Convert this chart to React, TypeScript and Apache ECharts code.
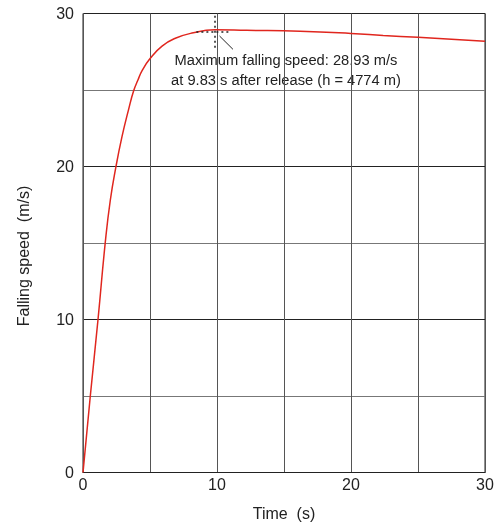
import React, { useEffect, useRef } from "react";
import * as echarts from "echarts";

const timeS = [0, 0.54, 1.12, 1.66, 2.04, 2.46, 2.91, 3.40, 3.78, 4.1, 4.40, 5.02, 5.90, 6.89, 8.13, 9.83, 12.2, 16.2, 20, 22.4, 25, 30];
const speedMs = [0, 4.95, 10, 15.02, 17.81, 19.99, 21.95, 23.72, 24.95, 25.65, 26.25, 27.07, 27.87, 28.38, 28.72, 28.93, 28.9, 28.84, 28.7, 28.57, 28.44, 28.18];
const xTicks = [0, 10, 20, 30];
const yTicks = [0, 10, 20, 30];
const maxT = 9.83;
const maxV = 28.93;
const annotationLines = ["Maximum falling speed: 28.93 m/s", "at 9.83 s after release (h = 4774 m)"];

const FONT = "'Liberation Sans', Arial, sans-serif";

export default function App() {
  const ref = useRef<HTMLDivElement>(null);
  useEffect(() => {
    if (!ref.current) return;
    const chart = echarts.init(ref.current, null, { renderer: "svg" });
    const data = timeS.map((t, i) => [t, speedMs[i]]);
    chart.setOption({
      animation: false,
      textStyle: { fontFamily: FONT },
      grid: { left: 83, right: 14, top: 13.5, bottom: 54.5, show: true, borderColor: "#222", borderWidth: 1 },
      xAxis: {
        type: "value",
        min: xTicks[0],
        max: xTicks[xTicks.length - 1],
        interval: 10,
        name: "Time  (s)",
        nameLocation: "middle",
        nameGap: 33,
        nameTextStyle: { fontSize: 16, color: "#222", fontFamily: FONT },
        axisLine: { show: true, lineStyle: { color: "#222", width: 1 } },
        axisTick: { show: false },
        axisLabel: { fontSize: 16, color: "#222", margin: 4, fontFamily: FONT },
        splitLine: { show: true, lineStyle: { color: "#555", width: 1 } },
        minorTick: { show: false, splitNumber: 2 },
        minorSplitLine: { show: true, lineStyle: { color: "#555", width: 1 } },
      },
      yAxis: {
        type: "value",
        min: yTicks[0],
        max: yTicks[yTicks.length - 1],
        interval: 10,
        name: "Falling speed  (m/s)",
        nameLocation: "middle",
        nameGap: 52,
        nameTextStyle: { fontSize: 16, color: "#222", fontFamily: FONT, padding: [0, 26, 0, 0] },
        axisLine: { show: true, lineStyle: { color: "#555", width: 1 } },
        axisTick: { show: false },
        axisLabel: { fontSize: 16, color: "#222", margin: 9, fontFamily: FONT },
        splitLine: { show: true, lineStyle: { color: "#222", width: 1 } },
        minorTick: { show: false, splitNumber: 2 },
        minorSplitLine: { show: true, lineStyle: { color: "#777", width: 1 } },
      },
      series: [
        {
          type: "line",
          data,
          smooth: 0.5,
          showSymbol: false,
          lineStyle: { color: "#e0261e", width: 1.5 },
          markLine: {
            silent: true,
            symbol: ["none", "none"],
            label: { show: false },
            lineStyle: { color: "#222", width: 1.5, type: [2, 3] },
            data: [
              [{ coord: [maxT, maxV + 0.92] }, { coord: [maxT, maxV - 1.2] }],
              [{ coord: [maxT - 1.37, maxV - 0.1] }, { coord: [maxT + 1.11, maxV - 0.1] }],
              [
                { coord: [maxT + 0.36, maxV - 0.4], lineStyle: { type: "solid", width: 1, color: "#222" } },
                { coord: [maxT + 1.36, maxV - 1.27] },
              ],
            ],
          },
        },
      ],
      graphic: [
        {
          type: "text",
          x: 286,
          y: 70,
          style: {
            text: annotationLines.join("\n"),
            fontSize: 14.7,
            lineHeight: 20,
            fill: "#222",
            fontFamily: FONT,
            align: "center",
            verticalAlign: "middle",
          },
        },
      ],
    });
    return () => chart.dispose();
  }, []);
  return <div ref={ref} style={{ position: "fixed", left: 0, top: 0, width: 499, height: 527 }} />;
}
